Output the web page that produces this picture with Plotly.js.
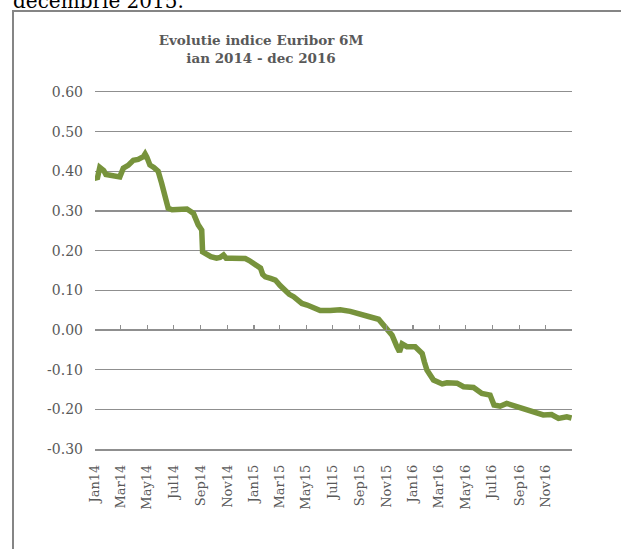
<!DOCTYPE html>
<html>
<head>
<meta charset="utf-8">
<script src="https://cdn.plot.ly/plotly-3.0.1.min.js"></script>
<style>
  html, body { margin:0; padding:0; background:#fff; overflow:hidden; }
  #wrap { position:relative; width:621px; height:549px; overflow:hidden; }
  #chart { position:absolute; left:0; top:0; width:621px; height:549px; }
  #above { position:absolute; left:13px; top:-9px; font-family:"DejaVu Serif", serif; font-size:20px; line-height:20px; color:#000; white-space:nowrap; z-index:2; }
</style>
</head>
<body>
<div id="wrap">
  <div id="chart"></div>
  <div id="above">decembrie 2015.</div>
</div>
<script>
// Euribor 6M
const dates = [
  '2014-01-02','2014-01-06','2014-01-12','2014-01-21','2014-01-26','2014-02-04','2014-02-16','2014-02-27',
  '2014-03-07','2014-03-18','2014-03-30','2014-04-10','2014-04-22','2014-04-26','2014-04-30','2014-05-07',
  '2014-05-16','2014-05-26','2014-06-03','2014-06-11','2014-06-18','2014-06-27','2014-07-08','2014-07-20',
  '2014-07-31','2014-08-07','2014-08-15','2014-08-26','2014-09-03','2014-09-05','2014-09-15','2014-09-24',
  '2014-10-07','2014-10-15','2014-10-23','2014-10-29','2014-11-11','2014-11-26','2014-12-12','2014-12-21',
  '2014-12-31','2015-01-09','2015-01-16','2015-01-21','2015-01-27','2015-02-08','2015-02-19','2015-03-02',
  '2015-03-14','2015-03-23','2015-04-02','2015-04-10','2015-04-21','2015-05-03','2015-05-18','2015-06-02',
  '2015-06-25','2015-07-18','2015-08-10','2015-08-29','2015-09-21','2015-10-14','2015-10-29','2015-11-14',
  '2015-11-25','2015-12-01','2015-12-07','2015-12-18','2016-01-06','2016-01-22','2016-01-27','2016-02-02',
  '2016-02-17','2016-03-08','2016-03-19','2016-04-11','2016-04-26','2016-05-19','2016-06-07','2016-06-26',
  '2016-07-05','2016-07-19','2016-08-03','2016-08-26','2016-09-18','2016-10-11','2016-10-26','2016-11-14',
  '2016-11-30','2016-12-19','2016-12-30'
];
const euribor6M = [
  0.385,0.380,0.410,0.402,0.392,0.390,0.385,0.386,
  0.408,0.415,0.428,0.430,0.437,0.444,0.436,0.416,
  0.410,0.400,0.370,0.328,0.307,0.303,0.303,0.304,
  0.305,0.300,0.294,0.265,0.252,0.197,0.189,0.185,
  0.181,0.183,0.189,0.181,0.181,0.182,0.180,0.175,
  0.168,0.163,0.156,0.140,0.134,0.130,0.126,0.112,
  0.097,0.090,0.084,0.076,0.067,0.063,0.055,0.049,
  0.049,0.051,0.047,0.040,0.034,0.027,0.008,-0.013,
  -0.042,-0.055,-0.035,-0.042,-0.042,-0.059,-0.080,-0.101,
  -0.126,-0.136,-0.133,-0.134,-0.143,-0.145,-0.160,-0.164,
  -0.189,-0.192,-0.185,-0.193,-0.200,-0.206,-0.214,-0.213,
  -0.223,-0.219,-0.222
];
const yTickVals = [-0.3,-0.2,-0.1,0,0.1,0.2,0.3,0.4,0.5,0.6];
const yTickText = ['-0.30','-0.20','-0.10','0.00','0.10','0.20','0.30','0.40','0.50','0.60'];
const chartTitle = 'Evolutie indice Euribor 6M<br>ian 2014 - dec 2016';

const xRange = ['2014-01-01','2016-12-31'];
const yRange = [-0.3, 0.6];
const zeroPos = (0 - yRange[0]) / (yRange[1] - yRange[0]);

const gray = '#8f8f8f';
const textGray = '#595959';
const fontFam = '"DejaVu Serif", serif';

const traces = [
  { x: dates, y: euribor6M, type:'scatter', mode:'lines',
    line:{ color:'#77933C', width:5.5 }, hoverinfo:'skip', showlegend:false },
  { x: [], y: [], xaxis:'x2', type:'scatter', mode:'lines', showlegend:false, hoverinfo:'skip' }
];

const L = 95, R = 49, T = 92, B = 100;
const W = 621, H = 549;
const pw = W - L - R, ph = H - T - B;
const px2x = p => (p - L) / pw;
const py2y = p => (H - B - p) / ph;

const layout = {
  width: W, height: H,
  margin: { l:L, r:R, t:T, b:B, pad:0 },
  paper_bgcolor:'#fff', plot_bgcolor:'#fff',
  font: { family: fontFam, color: textGray, size: 12 },
  title: { text: chartTitle, x: px2x(261), xref:'paper', xanchor:'center',
           y: 1 - 45/H, yref:'container', yanchor:'middle',
           font:{ family: fontFam, size: 13.5, color: textGray, weight: 'bold' } },
  xaxis: {
    type:'date', range: xRange, tick0:'2014-01-01', dtick:'M2', tickformat:'%b%y',
    tickangle:-90, showgrid:false, showline:true, mirror:true, linecolor: gray, linewidth:1.5,
    zeroline:false, ticks:'', ticklabelstandoff: 9,
    tickfont:{ family: fontFam, size: 13, color: textGray }, fixedrange:true
  },
  xaxis2: {
    type:'date', range: xRange, tick0:'2014-01-01', dtick:'M2', overlaying:'x',
    anchor:'free', position: zeroPos, side:'bottom', showgrid:false,
    showline:true, linecolor: gray, linewidth:1.2, ticks:'inside', ticklen:5,
    tickcolor: gray, tickwidth:1.2, showticklabels:false, zeroline:false, fixedrange:true
  },
  yaxis: {
    range: yRange, tickvals: yTickVals, ticktext: yTickText,
    showgrid:true, gridcolor: gray, gridwidth:1.5, zeroline:false, showline:false,
    ticks:'', ticklabelstandoff: 11,
    tickfont:{ family: fontFam, size: 14, color: textGray }, fixedrange:true
  },
  shapes: [
    { type:'rect', xref:'paper', yref:'paper',
      x0: px2x(13), x1: px2x(640), y0: py2y(580), y1: py2y(11),
      line:{ color:'#858585', width:2 }, fillcolor:'rgba(0,0,0,0)', layer:'above' }
  ]
};

Plotly.newPlot('chart', traces, layout, { staticPlot:true, displayModeBar:false });
</script>
</body>
</html>
